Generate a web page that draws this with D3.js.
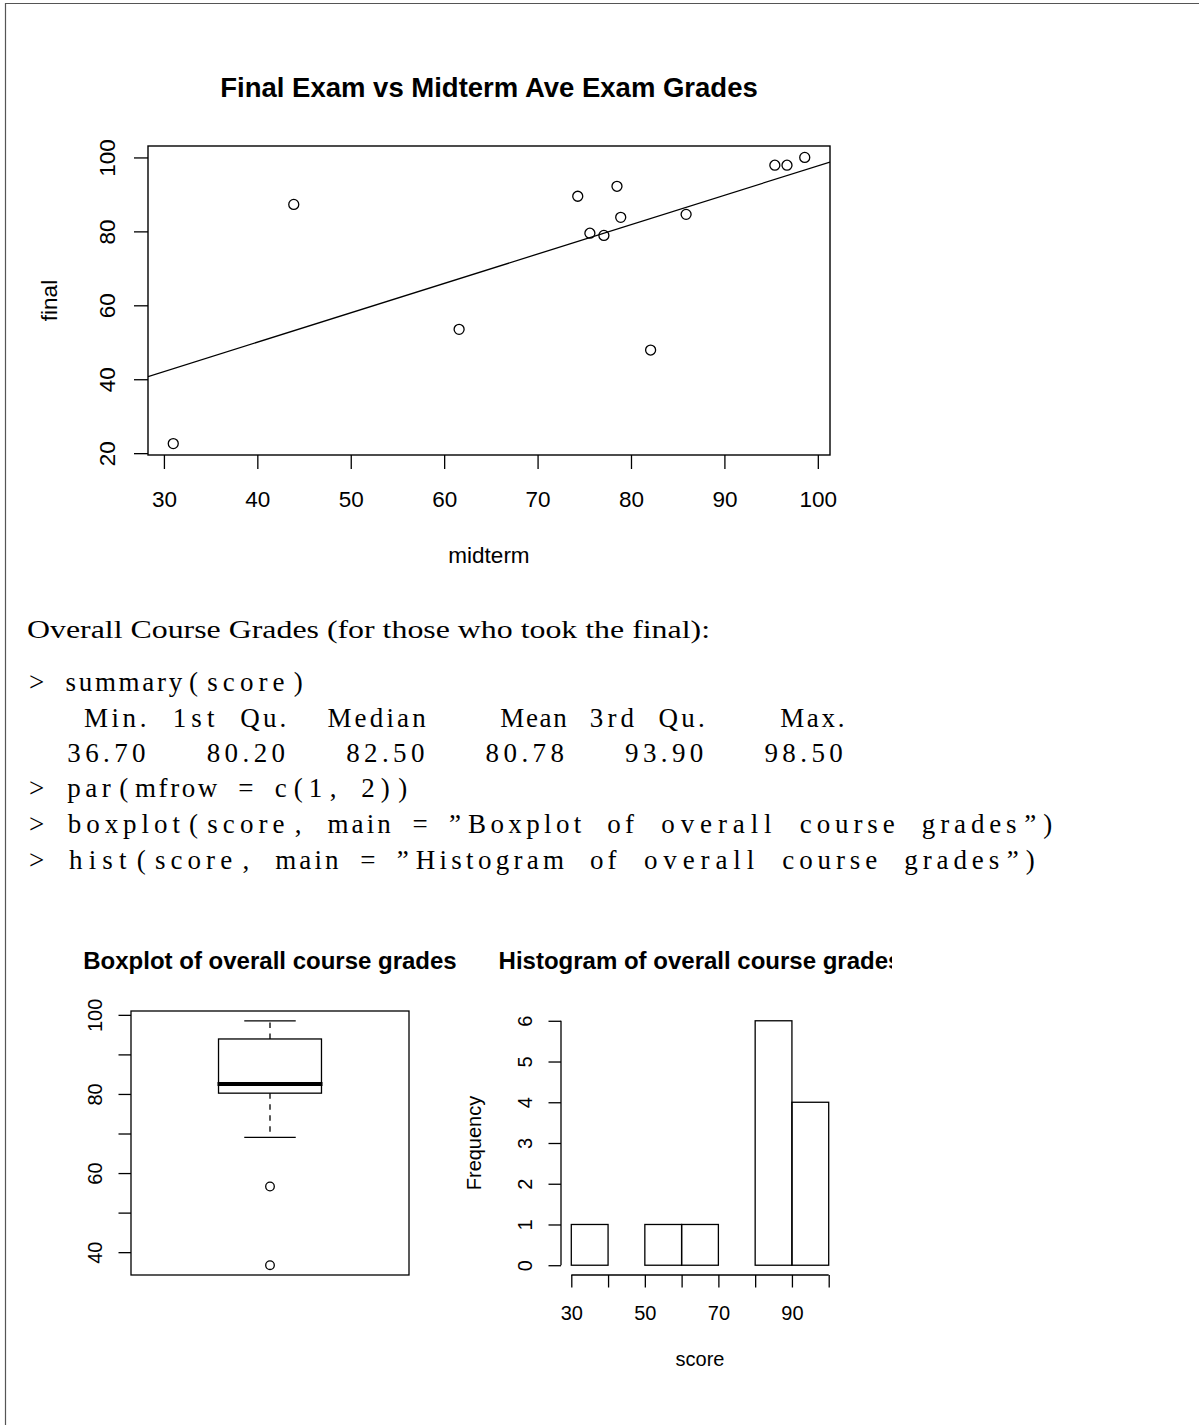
<!DOCTYPE html>
<html>
<head>
<meta charset="utf-8">
<script src="https://cdn.jsdelivr.net/npm/d3@7"></script>
<style>
  body { margin: 0; background: #fff; }
  svg { display: block; background: #fff; }
</style>
</head>
<body>
<svg width="1199" height="1425"></svg>
<script>
// final vs midterm exam grades
const midterm = [31.0, 43.9, 61.6, 74.3, 75.6, 77.1, 78.5, 78.9, 82.1, 85.9, 95.4, 96.7, 98.6];
const final   = [22.6, 87.3, 53.5, 89.5, 79.5, 78.9, 92.2, 83.8, 47.9, 84.6, 97.9, 97.9, 100.0];
const scatterXTicks = [30, 40, 50, 60, 70, 80, 90, 100];
const scatterYTicks = [20, 40, 60, 80, 100];

// overall course grades
const score = [36.7, 56.6, 69.0, 80.2, 81.5, 82.3, 82.5, 86.8, 89.3, 93.9, 95.6, 97.2, 98.5];
const boxYTicks = [40, 50, 60, 70, 80, 90, 100];
const boxYLabels = [40, 60, 80, 100];
const histBreaks = [30, 40, 50, 60, 70, 80, 90, 100];
const histXLabels = [30, 50, 70, 90];
const histYTicks = [0, 1, 2, 3, 4, 5, 6];

// printed summary(score)
const summaryHeads = ["Min.", "1st Qu.", "Median", "Mean", "3rd Qu.", "Max."];
const summaryVals = ["36.70", "80.20", "82.50", "80.78", "93.90", "98.50"];

const codeLines = [
  "> summary(score)",
  summaryHeads.map(s => s.padStart(7)).join(" "),
  summaryVals.map(s => s.padStart(7)).join(" "),
  "> par(mfrow = c(1, 2))",
  "> boxplot(score, main = ”Boxplot of overall course grades”)",
  "> hist(score, main = ”Histogram of overall course grades”)"
];

const sans = '"Liberation Sans", Arial, Helvetica, sans-serif';
const serif = '"Liberation Serif", "Times New Roman", serif';
const svg = d3.select("svg");

// R style axis range: 4% padding each side
const pad = e => { const r = e[1] - e[0]; return [e[0] - 0.04 * r, e[1] + 0.04 * r]; };

function tidyAxis(g, fs) {
    g.select(".domain").remove();
    g.selectAll(".tick line").attr("stroke", "#000").attr("stroke-width", 1.3);
    g.attr("font-family", sans).attr("font-size", fs);
    g.selectAll("text").attr("fill", "#000");
}

// page frame
svg.append("path")
    .attr("d", "M5.5,1425V3.5H1199")
    .attr("fill", "none").attr("stroke", "#555").attr("stroke-width", 1.2);

// ---------------- scatter plot ----------------
const sL = 148, sR = 830, sT = 146, sB = 455;
const sx = d3.scaleLinear().domain(pad(d3.extent(midterm))).range([sL, sR]);
const sy = d3.scaleLinear().domain(pad(d3.extent(final))).range([sB, sT]);

svg.append("text")
    .attr("x", (sL + sR) / 2).attr("y", 97)
    .attr("text-anchor", "middle")
    .attr("font-family", sans).attr("font-size", 27.5).attr("font-weight", "bold")
    .text("Final Exam vs Midterm Ave Exam Grades");

const sxAxis = svg.append("g").attr("transform", `translate(0,${sB})`)
    .call(d3.axisBottom(sx).tickValues(scatterXTicks).tickSize(14).tickFormat(d3.format("d")));
tidyAxis(sxAxis, 22.5);
sxAxis.selectAll("text").attr("y", 52).attr("dy", null);

const syAxis = svg.append("g").attr("transform", `translate(${sL},0)`)
    .call(d3.axisLeft(sy).tickValues(scatterYTicks).tickSize(14).tickFormat(d3.format("d")));
tidyAxis(syAxis, 22.5);
syAxis.selectAll("text")
    .attr("x", null).attr("dy", null).attr("text-anchor", "middle")
    .attr("transform", "translate(-33,0) rotate(-90)");

svg.append("text")
    .attr("x", (sL + sR) / 2).attr("y", 563).attr("text-anchor", "middle")
    .attr("font-family", sans).attr("font-size", 22.5)
    .text("midterm");
svg.append("text")
    .attr("transform", `translate(57,${(sT + sB) / 2}) rotate(-90)`)
    .attr("text-anchor", "middle")
    .attr("font-family", sans).attr("font-size", 22.5)
    .text("final");

svg.append("clipPath").attr("id", "sclip")
    .append("rect").attr("x", sL).attr("y", sT).attr("width", sR - sL).attr("height", sB - sT);

// least squares line (abline(lm(final ~ midterm)))
const mx = d3.mean(midterm), my = d3.mean(final);
const slope = d3.sum(midterm, (d, i) => (d - mx) * (final[i] - my)) / d3.sum(midterm, d => (d - mx) ** 2);
const icpt = my - slope * mx;
const xd = sx.domain();
svg.append("line")
    .attr("clip-path", "url(#sclip)")
    .attr("x1", sx(xd[0])).attr("y1", sy(icpt + slope * xd[0]))
    .attr("x2", sx(xd[1])).attr("y2", sy(icpt + slope * xd[1]))
    .attr("stroke", "#000").attr("stroke-width", 1.3);

svg.append("g").selectAll("circle")
    .data(midterm)
    .join("circle")
    .attr("cx", d => sx(d))
    .attr("cy", (d, i) => sy(final[i]))
    .attr("r", 5)
    .attr("fill", "none").attr("stroke", "#000").attr("stroke-width", 1.3);

svg.append("rect")
    .attr("x", sL).attr("y", sT).attr("width", sR - sL).attr("height", sB - sT)
    .attr("fill", "none").attr("stroke", "#000").attr("stroke-width", 1.4);

// ---------------- text block ----------------
svg.append("text")
    .attr("x", 27).attr("y", 638)
    .attr("font-family", serif).attr("font-size", 25)
    .attr("textLength", 683).attr("lengthAdjust", "spacingAndGlyphs")
    .text("Overall Course Grades (for those who took the final):");

// listing with fixed character cells
const cellW = 17.43, codeX = 28;
const codeY = [691, 727, 762, 797, 833, 869];
const code = svg.append("g").attr("font-family", serif).attr("font-size", 27).attr("fill", "#000");
codeLines.forEach((line, i) => {
    const re = /[A-Za-z0-9.]+|[^\sA-Za-z0-9.]/g;
    let m;
    while ((m = re.exec(line)) !== null) {
        const col = m.index, n = m[0].length;
        const t = code.append("text").attr("y", codeY[i]).text(m[0]);
        const nat = t.node().getComputedTextLength();
        const gap = (n * cellW - nat) / (n + 1);
        t.attr("x", codeX + col * cellW + gap).attr("letter-spacing", gap);
    }
});

// ---------------- boxplot ----------------
const pT = 1011, pB = 1275;
const bL = 131, bR = 409;
const fs2 = 20;
const bx = d3.scaleLinear().domain([0.46, 1.54]).range([bL, bR]);
const by = d3.scaleLinear().domain(pad(d3.extent(score))).range([pB, pT]);

const sorted = score.slice().sort(d3.ascending);
const q1 = d3.quantile(sorted, 0.25), med = d3.quantile(sorted, 0.5), q3 = d3.quantile(sorted, 0.75);
const iqr = q3 - q1;
const inside = sorted.filter(d => d >= q1 - 1.5 * iqr && d <= q3 + 1.5 * iqr);
const wLo = d3.min(inside), wHi = d3.max(inside);
const outliers = sorted.filter(d => d < wLo || d > wHi);

svg.append("text")
    .attr("x", (bL + bR) / 2).attr("y", 969).attr("text-anchor", "middle")
    .attr("font-family", sans).attr("font-size", 24).attr("font-weight", "bold")
    .text("Boxplot of overall course grades");

const box = svg.append("g").attr("stroke", "#000").attr("fill", "none").attr("stroke-width", 1.3);
box.append("line").attr("x1", bx(1)).attr("x2", bx(1)).attr("y1", by(q3)).attr("y2", by(wHi))
    .attr("stroke-dasharray", "5.5,5.5");
box.append("line").attr("x1", bx(1)).attr("x2", bx(1)).attr("y1", by(q1)).attr("y2", by(wLo))
    .attr("stroke-dasharray", "5.5,5.5");
[wLo, wHi].forEach(v => box.append("line")
    .attr("x1", bx(0.9)).attr("x2", bx(1.1)).attr("y1", by(v)).attr("y2", by(v)));
box.append("rect")
    .attr("x", bx(0.8)).attr("y", by(q3))
    .attr("width", bx(1.2) - bx(0.8)).attr("height", by(q1) - by(q3));
box.append("line").attr("x1", bx(0.8) - 1).attr("x2", bx(1.2) + 1)
    .attr("y1", by(med)).attr("y2", by(med)).attr("stroke-width", 4);
box.selectAll("circle").data(outliers).join("circle")
    .attr("cx", bx(1)).attr("cy", d => by(d)).attr("r", 4.3);

const byAxis = svg.append("g").attr("transform", `translate(${bL},0)`)
    .call(d3.axisLeft(by).tickValues(boxYTicks).tickSize(12.5)
        .tickFormat(d => boxYLabels.includes(d) ? d : ""));
tidyAxis(byAxis, fs2);
byAxis.selectAll("text")
    .attr("x", null).attr("dy", null).attr("text-anchor", "middle")
    .attr("transform", "translate(-29,0) rotate(-90)");

svg.append("rect")
    .attr("x", bL).attr("y", pT).attr("width", bR - bL).attr("height", pB - pT)
    .attr("fill", "none").attr("stroke", "#000").attr("stroke-width", 1.3);

// ---------------- histogram ----------------
const hL = 561, hR = 839;
const hx = d3.scaleLinear().domain(pad([histBreaks[0], histBreaks[histBreaks.length - 1]])).range([hL, hR]);
const hy = d3.scaleLinear().domain(pad([0, d3.max(histYTicks)])).range([pB, pT]);
const bins = d3.bin()
    .domain([histBreaks[0], histBreaks[histBreaks.length - 1]])
    .thresholds(histBreaks.slice(1, -1))(score);

// the device edge cuts the title off on the right
svg.append("clipPath").attr("id", "hclip")
    .append("rect").attr("x", 460).attr("y", 900).attr("width", 432).attr("height", 100);
svg.append("text")
    .attr("clip-path", "url(#hclip)")
    .attr("x", (hL + hR) / 2).attr("y", 969).attr("text-anchor", "middle")
    .attr("font-family", sans).attr("font-size", 24).attr("font-weight", "bold")
    .text("Histogram of overall course grades");

svg.append("g").selectAll("rect").data(bins).join("rect")
    .attr("x", d => hx(d.x0)).attr("width", d => hx(d.x1) - hx(d.x0))
    .attr("y", d => hy(d.length)).attr("height", d => hy(0) - hy(d.length))
    .attr("fill", "none").attr("stroke", "#000").attr("stroke-width", 1.3);

const hxAxis = svg.append("g").attr("transform", `translate(0,${pB})`)
    .call(d3.axisBottom(hx).tickValues(histBreaks).tickSize(12.5)
        .tickFormat(d => histXLabels.includes(d) ? d : ""));
tidyAxis(hxAxis, fs2);
hxAxis.selectAll("text").attr("y", 45).attr("dy", null);
hxAxis.append("line")
    .attr("x1", hx(histBreaks[0])).attr("x2", hx(histBreaks[histBreaks.length - 1]))
    .attr("stroke", "#000").attr("stroke-width", 1.3);

const hyAxis = svg.append("g").attr("transform", `translate(${hL},0)`)
    .call(d3.axisLeft(hy).tickValues(histYTicks).tickSize(12.5).tickFormat(d3.format("d")));
tidyAxis(hyAxis, fs2);
hyAxis.selectAll("text")
    .attr("x", null).attr("dy", null).attr("text-anchor", "middle")
    .attr("transform", "translate(-29,0) rotate(-90)");
hyAxis.append("line")
    .attr("y1", hy(0)).attr("y2", hy(d3.max(histYTicks)))
    .attr("stroke", "#000").attr("stroke-width", 1.3);

svg.append("text")
    .attr("x", (hL + hR) / 2).attr("y", 1366).attr("text-anchor", "middle")
    .attr("font-family", sans).attr("font-size", fs2)
    .text("score");
svg.append("text")
    .attr("transform", `translate(481,${(pT + pB) / 2}) rotate(-90)`)
    .attr("text-anchor", "middle")
    .attr("font-family", sans).attr("font-size", fs2)
    .text("Frequency");
</script>
</body>
</html>
